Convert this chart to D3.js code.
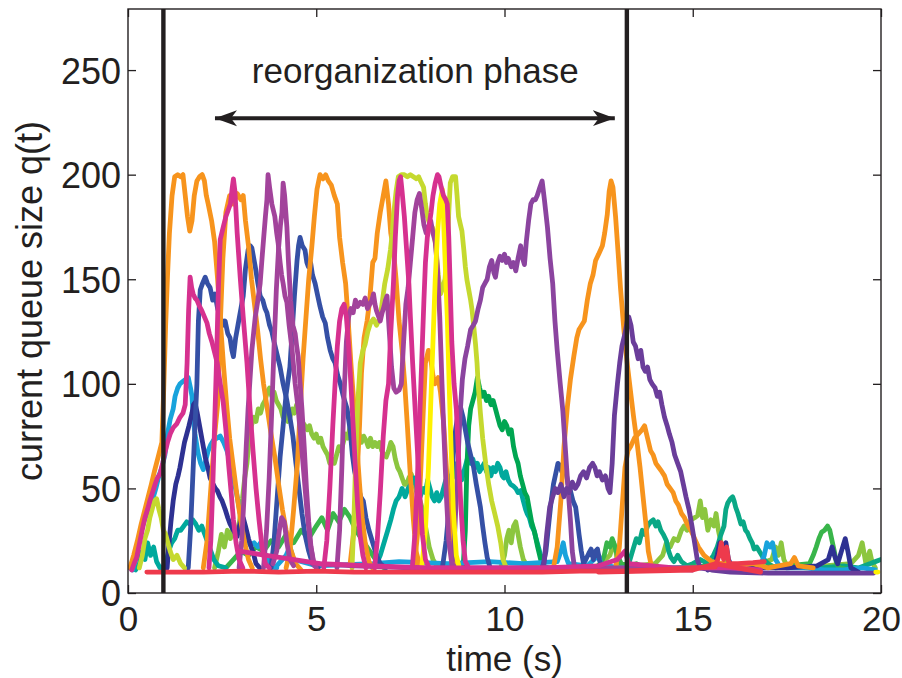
<!DOCTYPE html>
<html>
<head>
<meta charset="utf-8">
<script src="https://cdn.jsdelivr.net/npm/d3@7"></script>
<style>
  html, body { margin: 0; padding: 0; background: #ffffff; }
  svg { display: block; }
</style>
</head>
<body>
<svg id="chart" width="902" height="678"></svg>
<script>
// ---- axis settings ----
const xTicks = [0, 5, 10, 15, 20];
const yTicks = [0, 50, 100, 150, 200, 250];
const phaseBounds = [0.94, 13.25];     // start / end of the reorganization phase (s)
const arrowSpan = [2.31, 12.93];       // extent of the double arrow (s)
const arrowLevel = 227;                // queue level of the arrow
const phaseLabel = "reorganization phase";
const labelPos = [7.63, 244];

// ---- queue traces, [time (s), queue size] ----
const greenLow = [[2.6,12],[2.8,16],[3.0,20],[3.2,18],[3.4,22],[3.6,20],[3.8,25],[4.0,22],[4.2,28],[4.4,24],[4.6,30],[4.8,26],[5.0,32],[5.15,36],[5.3,30],[5.45,38],[5.6,34],[5.75,40],[5.9,36],[6.05,30],[6.2,26],[6.35,22],[6.5,18],[6.65,14],[6.8,12]];
const lightGreenA = [[2.3,12],[2.4,20],[2.48,28],[2.56,22],[2.64,30],[2.72,26],[2.8,32],[2.88,28],[2.96,34],[3.04,45],[3.1,55],[3.16,62],[3.22,74],[3.28,80],[3.34,84],[3.4,82],[3.46,88],[3.52,86],[3.58,90],[3.64,92],[3.7,96],[3.76,98],[3.82,94],[3.88,96],[3.94,92],[4.0,90],[4.06,88],[4.12,84],[4.18,86],[4.24,82],[4.3,84],[4.36,88],[4.42,86],[4.48,90],[4.55,86],[4.62,82],[4.7,80],[4.76,78],[4.82,80],[4.88,76],[4.94,74],[5.0,76],[5.06,72],[5.12,74],[5.18,70],[5.24,68],[5.3,66],[5.36,62],[5.42,64],[5.48,62],[5.54,66],[5.6,70],[5.66,68],[5.72,72],[5.78,76],[5.84,74],[5.9,80],[5.96,84],[6.02,86],[6.08,80],[6.14,76],[6.2,72],[6.26,75],[6.32,73],[6.38,70],[6.44,74],[6.5,70],[6.56,72],[6.62,70],[6.68,72],[6.74,68],[6.8,66],[6.86,65],[6.92,68],[6.98,72],[7.04,70],[7.1,64],[7.16,60],[7.22,58],[7.28,55],[7.34,52],[7.4,52],[7.46,55],[7.52,57],[7.58,54],[7.64,50],[7.7,46],[7.76,44],[7.82,40],[7.88,34],[7.94,28],[8.0,22],[8.1,16],[8.2,13],[8.3,12]];
const lightGreenB = [[9.9,12],[10.0,18],[10.06,26],[10.12,30],[10.18,24],[10.24,32],[10.3,34],[10.36,28],[10.42,22],[10.5,16],[10.6,13],[11.0,12],[12.0,12],[12.5,13],[12.8,18],[12.9,24],[12.96,20],[13.0,14],[13.5,13],[14.0,14],[14.2,18],[14.3,24],[14.4,22],[14.5,26],[14.6,25],[14.7,30],[14.77,32],[14.85,30],[14.95,35],[15.05,36],[15.13,37],[15.2,44],[15.26,36],[15.32,40],[15.4,30],[15.48,35],[15.56,32],[15.62,38],[15.68,30],[15.74,25],[15.8,20],[15.9,14],[16.2,13],[16.8,14],[17.1,16],[17.2,22],[17.28,18],[17.35,24],[17.42,16],[17.5,13],[18.0,12],[18.5,13],[19.2,14],[19.4,18],[19.5,24],[19.56,18],[19.6,14],[19.7,20],[19.76,15],[19.85,12]];
const tealEarly = [[0.9,12],[1.0,14],[1.08,20],[1.16,24],[1.24,26],[1.32,30],[1.4,30],[1.48,32],[1.56,34],[1.64,33],[1.72,35],[1.8,33],[1.88,30],[1.96,32],[2.04,28],[2.12,24],[2.2,20],[2.28,16],[2.4,13],[2.6,12]];
const tealSmall = [[0.2,11],[0.3,14],[0.38,20],[0.45,16],[0.52,24],[0.6,18],[0.68,22],[0.76,15],[0.85,12]];
const tealMid = [[6.5,12],[6.6,14],[6.7,18],[6.8,24],[6.9,30],[6.98,35],[7.05,40],[7.12,44],[7.2,46],[7.28,50],[7.36,46],[7.44,50],[7.52,52],[7.6,55],[7.68,50],[7.76,46],[7.84,50],[7.9,48],[7.96,54],[8.02,50],[8.08,46],[8.14,44],[8.2,48],[8.26,44],[8.32,46],[8.38,50],[8.44,54],[8.5,52],[8.56,56],[8.62,55],[8.68,60],[8.74,62],[8.8,58],[8.86,54],[8.92,58],[8.98,62],[9.04,66],[9.1,62],[9.16,64],[9.22,60],[9.28,62],[9.34,58],[9.4,60],[9.46,62],[9.52,58],[9.58,60],[9.64,56],[9.7,60],[9.76,58],[9.82,62],[9.88,60],[9.94,56],[9.98,55],[10.04,58],[10.1,54],[10.16,52],[10.24,51],[10.3,50],[10.36,48],[10.43,49],[10.5,44],[10.56,40],[10.6,38],[10.66,36],[10.72,32],[10.78,30],[10.84,26],[10.9,22],[10.96,18],[11.05,13],[11.15,12]];
const tealLate = [[13.2,12],[13.3,14],[13.4,20],[13.5,26],[13.58,24],[13.66,30],[13.72,28],[13.8,32],[13.88,34],[13.95,35],[14.02,32],[14.08,34],[14.15,30],[14.22,28],[14.3,25],[14.36,20],[14.42,17],[14.5,15],[14.6,18],[14.7,15],[14.85,13],[15.0,14],[15.2,16],[15.4,14],[15.55,18],[15.65,22],[15.75,28],[15.83,32],[15.88,40],[15.93,43],[16.0,45],[16.06,46],[16.1,44],[16.14,41],[16.2,38],[16.28,33],[16.34,34],[16.4,30],[16.45,29],[16.52,26],[16.58,24],[16.63,21],[16.7,22],[16.8,19],[16.9,16],[17.0,14],[17.2,12],[17.8,13],[18.4,12],[19.0,13],[19.4,12],[19.7,14],[19.85,15],[20.0,16]];
const greenLate = [[12.4,12],[12.55,14],[12.65,18],[12.72,24],[12.8,22],[12.86,26],[12.92,23],[13.0,18],[13.1,14],[13.3,13],[13.5,14],[13.7,12],[14.5,12],[15.5,13],[16.5,12],[17.5,13],[18.1,14],[18.2,18],[18.28,22],[18.35,26],[18.42,29],[18.5,30],[18.58,32],[18.64,30],[18.7,25],[18.76,20],[18.82,14],[18.9,12],[19.2,11]];
const emerald = [[8.9,12],[8.96,30],[9.0,60],[9.05,80],[9.1,88],[9.16,92],[9.22,96],[9.28,103],[9.34,98],[9.4,94],[9.46,96],[9.52,92],[9.58,94],[9.64,90],[9.7,92],[9.76,88],[9.82,84],[9.88,80],[9.94,78],[10.0,82],[10.06,80],[10.12,76],[10.18,78],[10.24,70],[10.3,65],[10.36,62],[10.42,56],[10.48,52],[10.54,48],[10.6,46],[10.66,40],[10.72,34],[10.8,29],[10.88,22],[10.96,16],[11.05,12]];
const cyanA = [[0.05,12],[0.12,11],[0.2,16],[0.28,24],[0.36,30],[0.42,34],[0.5,38],[0.58,42],[0.66,45],[0.74,50],[0.82,56],[0.9,60],[0.98,66],[1.05,76],[1.12,83],[1.2,88],[1.25,94],[1.32,98],[1.38,100],[1.45,101],[1.52,102],[1.6,103],[1.66,98],[1.7,94],[1.74,82],[1.78,76],[1.86,67],[1.93,62],[2.0,59],[2.06,63],[2.13,68],[2.2,71],[2.27,73],[2.36,74],[2.45,75],[2.54,72],[2.63,68],[2.72,62],[2.8,55],[2.9,46],[2.98,38],[3.06,31],[3.16,25],[3.25,23],[3.35,24],[3.45,22],[3.52,24],[3.6,20],[3.69,17],[3.8,13],[3.95,12]];
const cyanFloor = [[3.9,12],[4.2,18],[4.3,22],[4.4,16],[5.0,13],[6.5,14],[7.2,15],[8.5,14],[9.6,15],[10.5,14],[11.4,15],[11.5,20],[11.56,24],[11.62,18],[11.7,14],[12.2,13],[12.5,18],[12.56,14],[13.0,12],[14.5,12],[16.0,12]];
const cyanLate = [[16.2,11],[16.5,12],[16.8,13],[16.9,18],[16.97,24],[17.05,22],[17.12,24],[17.2,16],[17.3,13],[17.5,12],[18.0,12],[18.5,11],[19.0,11],[19.5,12],[19.85,11]];
const navyEarly = [[0.98,11],[1.04,12],[1.08,22],[1.14,34],[1.2,44],[1.27,52],[1.33,56],[1.38,60],[1.44,66],[1.5,72],[1.56,76],[1.62,80],[1.7,86],[1.74,90],[1.78,91],[1.84,86],[1.91,79],[1.98,72],[2.05,65],[2.12,60],[2.18,55],[2.26,52],[2.32,50],[2.37,49],[2.44,46],[2.5,44],[2.58,40],[2.65,36],[2.71,33],[2.8,30],[2.9,27],[2.96,32],[3.02,36],[3.06,36],[3.12,32],[3.2,26],[3.27,22],[3.33,19],[3.4,14],[3.5,12]];
const blueA = [[1.6,12],[1.66,30],[1.72,55],[1.78,80],[1.83,100],[1.87,130],[1.92,145],[1.98,148],[2.05,151],[2.11,148],[2.18,146],[2.25,140],[2.31,143],[2.38,136],[2.45,132],[2.52,128],[2.58,130],[2.65,124],[2.71,122],[2.76,116],[2.8,113],[2.86,122],[2.92,128],[3.0,136],[3.06,142],[3.12,155],[3.19,164],[3.25,166],[3.29,165],[3.34,160],[3.38,156],[3.45,148],[3.51,142],[3.58,140],[3.64,136],[3.69,134],[3.76,128],[3.82,125],[3.88,120],[3.96,114],[4.04,108],[4.12,100],[4.22,92],[4.3,84],[4.38,75],[4.46,62],[4.54,50],[4.62,38],[4.7,28],[4.8,20],[4.9,14],[5.05,12]];
const blueB = [[3.8,12],[3.88,25],[3.96,45],[4.04,65],[4.12,80],[4.2,95],[4.3,108],[4.36,125],[4.42,142],[4.49,159],[4.53,166],[4.57,170],[4.63,166],[4.7,164],[4.75,158],[4.79,156],[4.85,158],[4.9,152],[4.97,148],[5.04,142],[5.1,137],[5.17,132],[5.24,129],[5.3,122],[5.37,116],[5.44,112],[5.5,110],[5.57,104],[5.64,100],[5.72,94],[5.82,88],[5.9,78],[5.96,66],[6.02,58],[6.1,52],[6.18,46],[6.25,44],[6.32,36],[6.4,30],[6.5,24],[6.6,18],[6.7,14],[6.85,12]];
const blueC = [[8.35,12],[8.45,25],[8.55,45],[8.62,62],[8.7,78],[8.77,86],[8.83,89],[8.9,84],[8.96,78],[9.02,72],[9.1,66],[9.18,60],[9.25,52],[9.31,46],[9.36,41],[9.42,32],[9.48,24],[9.54,17],[9.62,12]];
const blueD = [[11.0,11],[11.1,20],[11.18,34],[11.24,44],[11.3,52],[11.36,57],[11.42,62],[11.47,61],[11.52,58],[11.57,60],[11.63,58],[11.69,52],[11.75,49],[11.82,44],[11.89,41],[11.94,34],[11.98,28],[12.04,20],[12.1,14],[12.16,16],[12.24,19],[12.3,21],[12.36,16],[12.42,20],[12.47,21],[12.52,16],[12.58,12]];
const navyLate = [[15.4,11],[15.55,12],[15.65,18],[15.72,24],[15.8,22],[15.88,24],[15.95,16],[16.05,12],[16.5,12],[17.5,12],[18.3,13],[18.6,16],[18.7,22],[18.78,17],[18.85,14],[18.95,20],[19.05,26],[19.12,20],[19.2,12],[19.4,10]];
const orangeA = [[0.05,12],[0.15,18],[0.25,25],[0.35,33],[0.45,40],[0.55,47],[0.62,52],[0.7,58],[0.8,65],[0.9,72],[0.95,98],[1.0,128],[1.05,152],[1.1,172],[1.17,190],[1.24,199],[1.32,200],[1.4,199],[1.46,200],[1.52,190],[1.58,180],[1.64,173],[1.7,178],[1.76,190],[1.83,197],[1.9,199],[1.97,200],[2.03,197],[2.08,190],[2.13,186],[2.22,178],[2.3,168],[2.38,150],[2.46,128],[2.54,108],[2.62,90],[2.7,74],[2.8,60],[2.9,46],[3.0,34],[3.1,24],[3.2,16],[3.3,12]];
const orangeB = [[2.0,12],[2.1,25],[2.2,50],[2.3,75],[2.38,90],[2.45,128],[2.52,160],[2.6,182],[2.7,190],[2.8,186],[2.9,191],[3.0,188],[3.06,190],[3.12,178],[3.2,166],[3.28,150],[3.36,138],[3.44,126],[3.52,112],[3.6,100],[3.7,88],[3.8,76],[3.9,65],[4.0,52],[4.1,40],[4.2,30],[4.3,22],[4.45,14],[4.6,11]];
const orangeC = [[4.2,12],[4.3,20],[4.4,40],[4.5,62],[4.58,90],[4.65,112],[4.72,130],[4.8,150],[4.88,165],[4.95,180],[5.02,193],[5.1,200],[5.18,198],[5.25,200],[5.32,197],[5.4,195],[5.48,190],[5.56,186],[5.62,170],[5.7,158],[5.78,148],[5.85,130],[5.92,110],[6.0,90],[6.08,70],[6.15,52],[6.22,36],[6.3,24],[6.4,15],[6.5,12]];
const orangeD = [[5.9,14],[6.0,30],[6.08,55],[6.15,80],[6.2,105],[6.27,122],[6.35,130],[6.42,140],[6.5,158],[6.56,160],[6.62,172],[6.7,182],[6.78,190],[6.85,197],[6.92,186],[6.98,172],[7.05,164],[7.12,150],[7.2,130],[7.28,116],[7.35,100],[7.42,80],[7.5,56],[7.58,35],[7.65,20],[7.75,13]];
const orangeE = [[7.6,12],[7.7,30],[7.78,60],[7.85,90],[7.9,110],[7.98,116],[8.04,112],[8.1,104],[8.15,100],[8.24,103],[8.3,96],[8.38,82],[8.45,62],[8.52,42],[8.6,24],[8.7,13]];
const orangeF = [[11.3,12],[11.4,22],[11.5,45],[11.58,70],[11.67,89],[11.75,102],[11.84,113],[11.92,122],[11.98,126],[12.05,128],[12.12,130],[12.2,140],[12.28,148],[12.35,152],[12.42,159],[12.5,162],[12.6,166],[12.66,172],[12.73,181],[12.78,192],[12.83,197],[12.88,194],[12.95,180],[13.02,162],[13.08,146],[13.17,126],[13.27,108],[13.35,96],[13.43,84],[13.52,72],[13.6,60],[13.68,46],[13.75,34],[13.82,20],[13.9,13]];
const orangeG = [[12.95,12],[13.05,22],[13.12,40],[13.2,60],[13.28,68],[13.35,70],[13.45,74],[13.55,76],[13.65,78],[13.72,80],[13.8,74],[13.88,68],[13.95,66],[14.02,62],[14.1,60],[14.18,58],[14.25,56],[14.32,52],[14.4,50],[14.48,48],[14.55,44],[14.62,42],[14.7,38],[14.78,36],[14.85,33],[14.95,30],[15.05,26],[15.15,22],[15.3,18],[15.5,15],[15.8,14],[16.2,13],[16.6,14],[17.0,12],[17.6,14],[17.7,17],[17.8,13],[18.2,12]];
const limeA = [[5.95,12],[6.0,35],[6.05,65],[6.1,90],[6.17,110],[6.24,116],[6.3,119],[6.37,125],[6.44,129],[6.52,131],[6.6,128],[6.7,132],[6.76,140],[6.82,148],[6.9,155],[6.97,164],[7.02,172],[7.05,180],[7.12,192],[7.18,199],[7.26,200],[7.34,200],[7.42,199],[7.5,200],[7.58,199],[7.66,198],[7.72,199],[7.77,197],[7.85,194],[7.9,186],[7.95,180],[8.02,176],[8.08,175],[8.12,173],[8.18,165],[8.24,152],[8.3,143],[8.36,146],[8.42,150],[8.48,164],[8.52,182],[8.56,196],[8.62,199],[8.7,199],[8.74,190],[8.78,180],[8.83,176],[8.87,173],[8.92,164],[8.96,156],[9.0,150],[9.05,145],[9.1,140],[9.14,135],[9.18,128],[9.23,119],[9.27,110],[9.3,100],[9.36,86],[9.42,74],[9.5,62],[9.58,52],[9.66,44],[9.74,38],[9.82,32],[9.9,24],[9.96,16],[10.05,12]];
const limeEarly = [[0.3,12],[0.38,18],[0.45,26],[0.52,30],[0.58,36],[0.64,40],[0.7,44],[0.76,45],[0.82,40],[0.88,36],[0.94,30],[1.0,28],[1.06,24],[1.12,20],[1.2,16],[1.3,18],[1.4,14],[1.5,12]];
const purpleA = [[8.6,12],[8.68,30],[8.75,58],[8.82,85],[8.88,102],[8.95,112],[9.02,118],[9.1,126],[9.17,128],[9.23,130],[9.3,136],[9.36,140],[9.42,146],[9.48,148],[9.54,150],[9.6,156],[9.66,159],[9.72,153],[9.76,151],[9.82,158],[9.88,161],[9.94,159],[10.0,162],[10.05,158],[10.1,160],[10.18,156],[10.24,158],[10.3,154],[10.36,160],[10.43,166],[10.48,160],[10.53,157],[10.58,168],[10.64,178],[10.7,186],[10.76,188],[10.82,188],[10.87,190],[10.94,194],[11.0,197],[11.06,188],[11.14,175],[11.21,160],[11.28,148],[11.34,130],[11.4,116],[11.48,100],[11.55,87],[11.62,68],[11.68,52],[11.75,35],[11.8,20],[11.86,12]];
const violetA = [[10.95,11],[11.05,14],[11.12,28],[11.2,41],[11.28,46],[11.35,50],[11.42,48],[11.5,52],[11.58,46],[11.65,50],[11.72,48],[11.8,53],[11.88,50],[11.95,52],[12.02,56],[12.1,58],[12.18,55],[12.26,60],[12.34,62],[12.4,60],[12.46,56],[12.52,58],[12.6,54],[12.68,56],[12.75,50],[12.8,48],[12.86,62],[12.92,85],[13.0,100],[13.06,110],[13.12,118],[13.2,124],[13.26,130],[13.3,132],[13.36,128],[13.42,120],[13.48,118],[13.55,112],[13.62,116],[13.68,108],[13.74,106],[13.8,108],[13.86,102],[13.92,100],[14.0,98],[14.06,94],[14.12,96],[14.18,90],[14.25,84],[14.32,80],[14.38,76],[14.45,72],[14.52,66],[14.6,62],[14.68,58],[14.75,52],[14.82,46],[14.9,40],[14.98,32],[15.05,24],[15.12,16],[15.2,12],[15.5,11],[16.0,10],[17.0,9.5],[18.0,9.5],[19.0,9.5],[19.8,9.5]];
const plumA = [[2.95,12],[3.02,25],[3.08,45],[3.14,70],[3.19,88],[3.24,102],[3.29,116],[3.34,125],[3.38,132],[3.45,140],[3.51,148],[3.56,160],[3.6,169],[3.65,180],[3.69,188],[3.72,200],[3.76,194],[3.82,186],[3.86,183],[3.9,180],[3.95,172],[3.99,167],[4.04,158],[4.08,152],[4.12,148],[4.17,142],[4.22,139],[4.28,128],[4.36,116],[4.44,100],[4.52,88],[4.6,72],[4.68,55],[4.76,38],[4.84,24],[4.92,15],[5.0,12]];
const plumB = [[3.6,12],[3.68,30],[3.75,55],[3.82,88],[3.88,118],[3.94,145],[4.0,165],[4.05,176],[4.09,182],[4.12,196],[4.16,190],[4.22,175],[4.26,159],[4.32,140],[4.38,128],[4.44,124],[4.48,118],[4.52,113],[4.58,98],[4.62,88],[4.68,70],[4.74,50],[4.8,34],[4.86,22],[4.95,13]];
const plumC = [[5.55,12],[5.62,30],[5.68,60],[5.74,95],[5.8,120],[5.86,132],[5.92,136],[5.98,134],[6.04,140],[6.1,137],[6.17,139],[6.24,138],[6.3,141],[6.36,136],[6.42,138],[6.48,140],[6.52,143],[6.56,138],[6.6,135],[6.66,132],[6.7,130],[6.75,134],[6.8,137],[6.84,140],[6.88,142],[6.94,125],[7.0,108],[7.06,98],[7.12,96],[7.2,97],[7.26,100],[7.32,120],[7.38,138],[7.44,146],[7.5,158],[7.56,170],[7.62,182],[7.68,188],[7.74,191],[7.8,184],[7.86,176],[7.92,172],[7.98,175],[8.04,178],[8.1,172],[8.16,168],[8.22,155],[8.28,132],[8.34,100],[8.4,72],[8.46,45],[8.52,25],[8.6,14],[8.7,12]];
const plumBump = [[3.85,14],[3.95,20],[4.02,30],[4.08,36],[4.15,34],[4.22,24],[4.3,16],[4.4,13]];
const plumFloor = [[4.9,14],[6.0,13],[7.5,12],[9.0,12],[10.5,12],[12.0,12],[13.5,12],[15.0,11]];
const yellowA = [[7.8,12],[7.9,30],[7.98,60],[8.04,90],[8.1,120],[8.16,150],[8.22,172],[8.28,186],[8.35,193],[8.4,170],[8.44,150],[8.48,132],[8.53,100],[8.58,70],[8.64,40],[8.72,18],[8.8,12]];
const yellowDot = [[19.86,10],[19.92,10]];
const magentaA = [[2.15,12],[2.2,25],[2.25,50],[2.3,80],[2.35,110],[2.4,145],[2.45,169],[2.53,175],[2.6,180],[2.66,183],[2.72,186],[2.77,194],[2.8,198],[2.84,192],[2.9,172],[2.98,151],[3.06,132],[3.16,110],[3.24,88],[3.32,68],[3.4,50],[3.48,35],[3.56,22],[3.65,14],[3.75,12]];
const magentaB = [[0.1,11],[0.16,14],[0.23,17],[0.32,25],[0.4,32],[0.45,36],[0.52,40],[0.58,44],[0.65,48],[0.72,52],[0.78,55],[0.85,57],[0.92,62],[0.98,67],[1.05,72],[1.12,76],[1.2,79],[1.3,81],[1.38,84],[1.46,86],[1.52,90],[1.57,110],[1.61,135],[1.65,151],[1.69,146],[1.73,143],[1.78,141],[1.83,140],[1.9,137],[1.96,135],[2.03,132],[2.1,129],[2.16,124],[2.23,120],[2.3,115],[2.37,110],[2.45,100],[2.53,91],[2.6,78],[2.67,62],[2.74,48],[2.8,35],[2.87,24],[2.95,16],[3.05,12]];
const magentaC = [[5.2,12],[5.28,25],[5.36,50],[5.44,80],[5.5,100],[5.56,118],[5.62,130],[5.68,136],[5.74,138],[5.8,132],[5.86,118],[5.92,100],[5.98,80],[6.04,60],[6.1,42],[6.16,28],[6.24,18],[6.32,12]];
const magentaD = [[6.55,12],[6.62,25],[6.7,48],[6.78,75],[6.85,92],[6.92,100],[6.98,125],[7.05,148],[7.1,170],[7.16,190],[7.2,197],[7.24,199],[7.28,192],[7.34,180],[7.4,164],[7.46,148],[7.5,132],[7.56,110],[7.63,87],[7.7,64],[7.76,44],[7.82,28],[7.9,16],[8.0,12]];
const magentaE = [[7.55,12],[7.62,28],[7.68,52],[7.74,80],[7.8,110],[7.86,140],[7.9,158],[7.95,170],[8.0,176],[8.05,182],[8.1,190],[8.16,196],[8.22,200],[8.26,199],[8.32,194],[8.38,190],[8.44,188],[8.48,186],[8.52,170],[8.56,145],[8.6,120],[8.66,100],[8.72,88],[8.78,65],[8.84,42],[8.9,25],[8.96,15],[9.05,12]];
const magentaFloor = [[2.95,20],[5.1,14],[6.5,13],[8.0,12],[9.5,12],[11.0,12],[12.5,13],[13.0,16],[13.2,20],[13.3,14],[14.5,12],[16.0,12],[16.8,11]];
const redA = [[0.5,10],[1.0,10],[2.0,10],[3.0,10.5],[4.0,10],[5.0,10.5],[6.0,10],[7.0,10],[8.0,10],[9.0,10],[10.0,10],[11.0,10],[12.0,10.5],[13.0,10.5],[14.0,11],[15.0,12],[15.6,12.5],[15.7,18],[15.76,24],[15.82,16],[15.9,22],[15.96,14],[16.2,14],[16.6,14.5],[16.9,15]];
const redB = [[12.5,10],[15.0,11],[15.6,14],[16.8,10]];

// drawing order, bottom layer first, with the colour of each trace
const palette = {
  orange: "#f7941d", lime: "#c5d92f", yellow: "#fff200", lightGreen: "#8cc63f",
  green: "#39b54a", emerald: "#00a651", teal: "#00a99d", tealGreen: "#0aa886",
  cyan: "#18a3dc", navy: "#2e3192", blue: "#3550a5", violet: "#6a3d9a",
  purple: "#8b449f", plum: "#a2439b", magenta: "#d6318f", red: "#ee3a4c"
};
const layers = [
  [greenLow, "green"], [lightGreenA, "lightGreen"], [lightGreenB, "lightGreen"],
  [tealSmall, "teal"], [tealEarly, "teal"], [tealMid, "teal"], [tealLate, "tealGreen"],
  [greenLate, "green"], [emerald, "emerald"],
  [cyanA, "cyan"], [cyanFloor, "cyan"], [cyanLate, "cyan"],
  [navyEarly, "navy"], [blueA, "blue"], [blueB, "blue"], [blueC, "blue"], [blueD, "blue"], [navyLate, "navy"],
  [orangeA, "orange"], [orangeB, "orange"], [orangeC, "orange"], [orangeD, "orange"],
  [orangeE, "orange"], [orangeF, "orange"], [orangeG, "orange"],
  [limeEarly, "lime"], [limeA, "lime"],
  [purpleA, "purple"], [violetA, "violet"],
  [plumFloor, "plum"], [plumBump, "plum"], [plumA, "plum"], [plumB, "plum"], [plumC, "plum"],
  [yellowA, "yellow"], [yellowDot, "yellow"],
  [magentaFloor, "magenta"], [magentaB, "magenta"], [magentaA, "magenta"], [magentaC, "magenta"],
  [magentaD, "magenta"], [magentaE, "magenta"],
  [redB, "red"], [redA, "red"]
];

// ---- layout ----
const W = 902, H = 678;
const plot = { left: 128, right: 881, top: 9, bottom: 593 };
const ink = "#231f20";
const font = "'Liberation Sans', Arial, Helvetica, sans-serif";

const x = d3.scaleLinear().domain([0, 20]).range([plot.left, plot.right]);
const y = d3.scaleLinear().domain([0, 279.2]).range([plot.bottom, plot.top]);

const svg = d3.select("#chart");
svg.append("rect").attr("width", W).attr("height", H).attr("fill", "#fff");

svg.append("clipPath").attr("id", "plotClip")
  .append("rect").attr("x", plot.left).attr("y", plot.top)
  .attr("width", plot.right - plot.left).attr("height", plot.bottom - plot.top);

const line = d3.line().x(d => x(d[0])).y(d => y(d[1]));

const traces = svg.append("g").attr("clip-path", "url(#plotClip)");
traces.selectAll("path.trace")
  .data(layers)
  .join("path")
  .attr("class", "trace")
  .attr("d", d => line(d[0]))
  .attr("fill", "none")
  .attr("stroke", d => palette[d[1]])
  .attr("stroke-width", 4.8)
  .attr("stroke-linejoin", "round")
  .attr("stroke-linecap", "round");

// phase boundaries
svg.append("g").selectAll("line")
  .data(phaseBounds)
  .join("line")
  .attr("x1", d => x(d)).attr("x2", d => x(d))
  .attr("y1", plot.top).attr("y2", plot.bottom)
  .attr("stroke", ink).attr("stroke-width", 4.4);

// double arrow
const defs = svg.append("defs");
["start", "end"].forEach(k => {
  defs.append("marker")
    .attr("id", "head-" + k)
    .attr("viewBox", "0 -10 24 20")
    .attr("refX", 22).attr("refY", 0)
    .attr("markerUnits", "userSpaceOnUse")
    .attr("markerWidth", 24).attr("markerHeight", 20)
    .attr("orient", k === "start" ? "auto-start-reverse" : "auto")
    .append("path")
    .attr("d", "M22,0 L0,-8 L6,0 L0,8 Z")
    .attr("fill", ink);
});
svg.append("line")
  .attr("x1", x(arrowSpan[0])).attr("x2", x(arrowSpan[1]))
  .attr("y1", y(arrowLevel)).attr("y2", y(arrowLevel))
  .attr("stroke", ink).attr("stroke-width", 4)
  .attr("marker-start", "url(#head-start)")
  .attr("marker-end", "url(#head-end)");

svg.append("text")
  .attr("x", x(labelPos[0])).attr("y", y(labelPos[1]))
  .attr("text-anchor", "middle")
  .attr("font-family", font).attr("font-size", 35).attr("fill", ink)
  .text(phaseLabel);

// ---- axes ----
const tickLen = 8;
function styleAxis(g) {
  g.select(".domain").remove();
  g.selectAll(".tick line").attr("stroke", ink).attr("stroke-width", 1.3);
  g.selectAll(".tick text").attr("font-family", font).attr("font-size", 35).attr("fill", ink);
}
svg.append("g").attr("transform", `translate(0,${plot.bottom})`)
  .call(d3.axisBottom(x).tickValues(xTicks).tickSizeInner(-tickLen).tickSizeOuter(0).tickPadding(13).tickFormat(d3.format("d")))
  .call(styleAxis);
svg.append("g").attr("transform", `translate(0,${plot.top})`)
  .call(d3.axisTop(x).tickValues(xTicks).tickSizeInner(-tickLen).tickSizeOuter(0).tickFormat(""))
  .call(styleAxis);
svg.append("g").attr("transform", `translate(${plot.left},0)`)
  .call(d3.axisLeft(y).tickValues(yTicks).tickSizeInner(-tickLen).tickSizeOuter(0).tickPadding(7).tickFormat(d3.format("d")))
  .call(styleAxis)
  .call(g => g.selectAll(".tick text").attr("font-size", 36).attr("dy", "0.36em"));
svg.append("g").attr("transform", `translate(${plot.right},0)`)
  .call(d3.axisRight(y).tickValues(yTicks).tickSizeInner(-tickLen).tickSizeOuter(0).tickFormat(""))
  .call(styleAxis);

svg.append("rect")
  .attr("x", plot.left).attr("y", plot.top)
  .attr("width", plot.right - plot.left).attr("height", plot.bottom - plot.top)
  .attr("fill", "none").attr("stroke", ink).attr("stroke-width", 1.4);

// axis titles
svg.append("text")
  .attr("x", (plot.left + plot.right) / 2).attr("y", 671)
  .attr("text-anchor", "middle")
  .attr("font-family", font).attr("font-size", 35).attr("fill", ink)
  .text("time (s)");
svg.append("text")
  .attr("transform", `translate(42,${(plot.top + plot.bottom) / 2}) rotate(-90)`)
  .attr("text-anchor", "middle")
  .attr("font-family", font).attr("font-size", 36).attr("fill", ink)
  .text("current queue size q(t)");
</script>
</body>
</html>
